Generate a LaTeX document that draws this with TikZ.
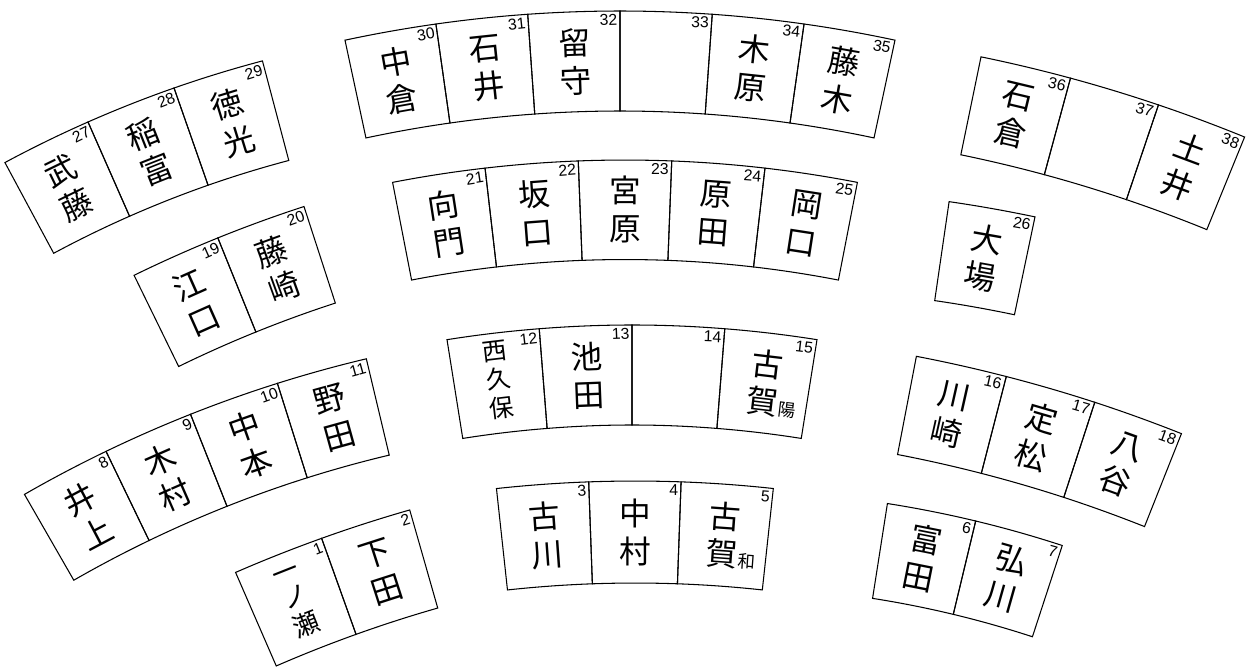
\documentclass[tikz,border=0pt]{standalone}
\usepackage{fontspec}
\newfontfamily\jpfont{Noto Sans CJK JP}
\newfontfamily\numfont{Liberation Sans}
\usepackage{tikz}

\newcommand{\seatrow}[7]{%
	\foreach \nm/\no [count=\idx from 0] in {#7} {
		\pgfmathsetmacro\angA{#5+\idx*(#6)}
		\pgfmathsetmacro\angB{\angA+(#6)}
		\pgfmathsetmacro\angM{\angA+(#6)/2}
		\pgfmathsetmacro\rM{(#3+#4)/2}
		\draw[seat] ([shift={(\angA:#4)}]#1,#2) arc[start angle=\angA, end angle=\angB, radius=#4] -- ([shift={(\angB:#3)}]#1,#2) arc[start angle=\angB, end angle=\angA, radius=#3] -- cycle;
		\node[seatname, rotate=\angM-90] (s\no) at ([shift={(\angM:\rM)}]#1,#2) {\nm};
		\node[seatno, rotate=\angM-90, anchor=north east] (n\no) at ([shift={(\angB:#4)}]#1,#2) {\no};
	}%
}
\newcommand{\subname}[1]{{\fontsize{10}{10}\selectfont #1}}

\begin{document}
\begin{tikzpicture}[x=0.02cm, y=0.02cm, seat/.style={draw, line width=0.6pt}, seatname/.style={font=\jpfont\fontsize{18}{21.6}\selectfont, align=center, inner sep=0pt}, seatno/.style={font=\numfont\fontsize{9}{10}\selectfont, inner sep=1.5pt}]
	\useasboundingbox (0,0) rectangle (1247,666);
	\seatrow{565}{-538.5}{1080}{1183}{118.26}{-4.48}{{武\\藤}/27, {稲\\富}/28, {徳\\光}/29}
	\seatrow{620}{-657}{1212}{1312}{102.1}{-4.033}{{中\\倉}/30, {石\\井}/31, {留\\守}/32, {}/33, {木\\原}/34, {藤\\木}/35}
	\seatrow{679}{-857}{1397}{1497}{78.36}{-3.52}{{石\\倉}/36, {}/37, {土\\井}/38}
	\seatrow{625}{-712}{1118.5}{1218}{101.0}{-4.4}{{向\\門}/21, {坂\\口}/22, {宮\\原}/23, {原\\田}/24, {岡\\口}/25}
	\seatrow{705.6}{-778}{1199.5}{1301}{116.06}{-4.04}{{江\\口}/19, {藤\\崎}/20}
	\seatrow{747.5}{-921}{1300}{1400}{81.72}{-3.57}{{大\\場}/26}
	\seatrow{632}{-834}{1075}{1175}{99.06}{-4.53}{{\fontsize{14}{15}\selectfont\begin{tabular}{@{}c@{}}西\\久\\保\end{tabular}}/12, {池\\田}/13, {}/14, {古\\\subname{\hphantom{陽}}賀\subname{陽}}/15}
	\seatrow{662.5}{-938}{1181}{1280}{119.9}{-4.13}{{井\\上}/8, {木\\村}/9, {中\\本}/10, {野\\田}/11}
	\seatrow{640}{-1131}{1367}{1467}{79.14}{-3.6}{{川\\崎}/16, {定\\松}/17, {八\\谷}/18}
	\seatrow{635}{-1098}{1181}{1283}{96.2}{-4.13}{{古\\川}/3, {中\\村}/4, {古\\\subname{\hphantom{和}}賀\subname{和}}/5}
	\seatrow{795}{-1193}{1301}{1403}{113.5}{-3.78}{{\fontsize{15}{14.5}\selectfont\begin{tabular}{@{}c@{}}一\\ノ\\瀬\end{tabular}}/1, {下\\田}/2}
	\seatrow{714}{-945}{1025}{1121}{81.1}{-4.6}{{富\\田}/6, {弘\\川}/7}
\end{tikzpicture}
\end{document}
